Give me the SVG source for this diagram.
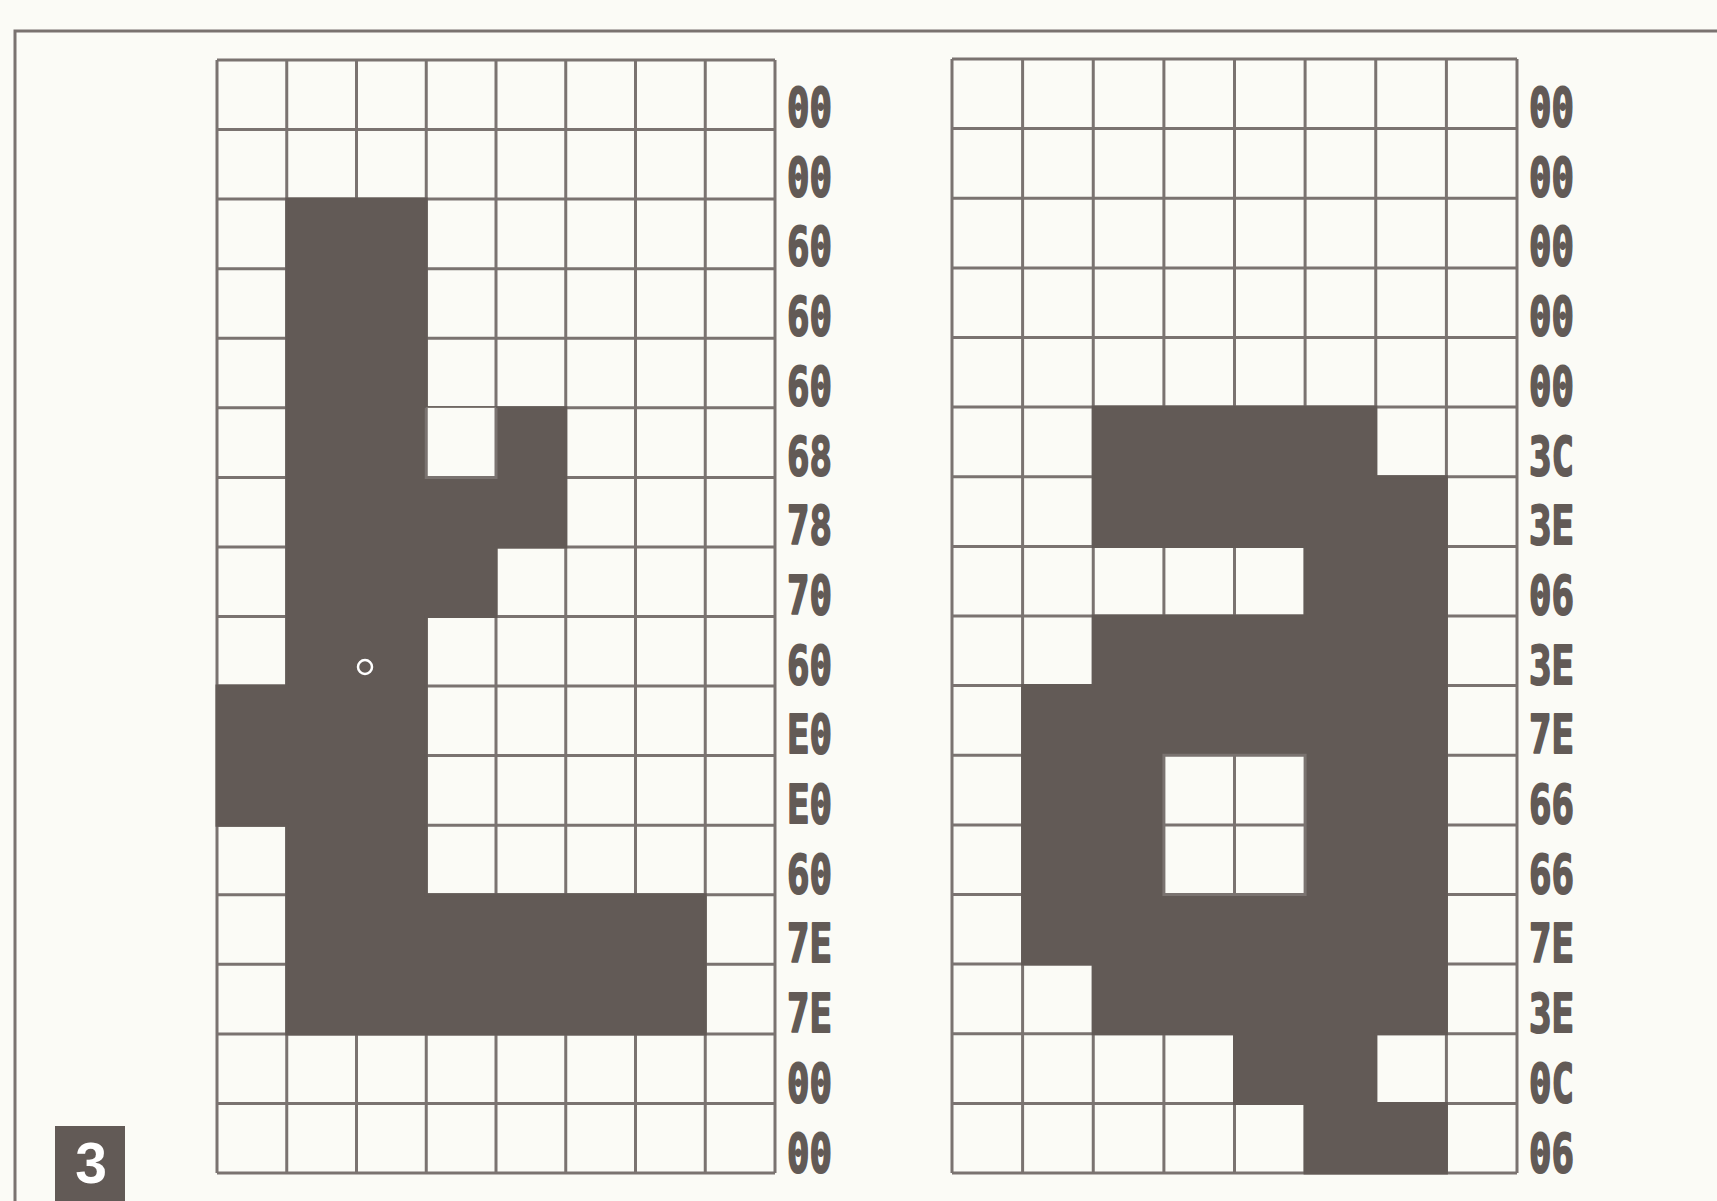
<svg xmlns="http://www.w3.org/2000/svg" width="1717" height="1201" viewBox="0 0 1717 1201">
<style>
.bg{fill:#fbfbf6}
.frame{fill:none;stroke:#7a7370;stroke-width:3}
.grid{fill:none;stroke:#7a7370;stroke-width:3}
.on{fill:#625a56;stroke:#625a56;stroke-width:3}
.hex{font-family:"DejaVu Sans Mono","Liberation Mono",monospace;font-weight:bold;font-size:53px;fill:#625a56;stroke:#625a56;stroke-width:2;stroke-linejoin:round}
.num{font-family:"Liberation Sans",Arial,sans-serif;font-weight:bold;font-size:57px;fill:#ffffff}
</style>
<rect class="bg" x="0" y="0" width="1717" height="1201"/>
<path class="frame" d="M15,1201 V31 H1717"/>

<g id="grid-left">
<path class="grid" d="M217,60 H775 M217,129.6 H775 M217,199.1 H775 M217,268.7 H775 M217,338.3 H775 M217,407.8 H775 M217,477.4 H775 M217,546.9 H775 M217,616.5 H775 M217,686.1 H775 M217,755.6 H775 M217,825.2 H775 M217,894.8 H775 M217,964.3 H775 M217,1033.9 H775 M217,1103.4 H775 M217,1173 H775 M217,60 V1173 M286.75,60 V1173 M356.5,60 V1173 M426.25,60 V1173 M496,60 V1173 M565.75,60 V1173 M635.5,60 V1173 M705.25,60 V1173 M775,60 V1173"/>
<path class="on" d="M286.75,199.1 H426.25 V407.8 H565.75 V546.9 H496 V616.5 H426.25 V894.8 H705.25 V1033.9 H286.75 V825.2 H217 V686.1 H286.75 Z"/>
<rect x="426.25" y="407.8" width="69.75" height="69.6" fill="#fbfbf6" stroke="none"/>
<path class="grid" d="M426.25,407.8 V477.4 H496 V407.8"/>
<circle cx="365" cy="667" r="7" fill="none" stroke="#ffffff" stroke-width="2.5"/>
<g class="hex">
<text x="787" y="126" textLength="45" lengthAdjust="spacingAndGlyphs">00</text>
<text x="787" y="195.7" textLength="45" lengthAdjust="spacingAndGlyphs">00</text>
<text x="787" y="265.4" textLength="45" lengthAdjust="spacingAndGlyphs">60</text>
<text x="787" y="335.1" textLength="45" lengthAdjust="spacingAndGlyphs">60</text>
<text x="787" y="404.8" textLength="45" lengthAdjust="spacingAndGlyphs">60</text>
<text x="787" y="474.5" textLength="45" lengthAdjust="spacingAndGlyphs">68</text>
<text x="787" y="544.2" textLength="45" lengthAdjust="spacingAndGlyphs">78</text>
<text x="787" y="613.9" textLength="45" lengthAdjust="spacingAndGlyphs">70</text>
<text x="787" y="683.6" textLength="45" lengthAdjust="spacingAndGlyphs">60</text>
<text x="787" y="753.3" textLength="45" lengthAdjust="spacingAndGlyphs">E0</text>
<text x="787" y="823" textLength="45" lengthAdjust="spacingAndGlyphs">E0</text>
<text x="787" y="892.7" textLength="45" lengthAdjust="spacingAndGlyphs">60</text>
<text x="787" y="962.4" textLength="45" lengthAdjust="spacingAndGlyphs">7E</text>
<text x="787" y="1032.1" textLength="45" lengthAdjust="spacingAndGlyphs">7E</text>
<text x="787" y="1101.8" textLength="45" lengthAdjust="spacingAndGlyphs">00</text>
<text x="787" y="1171.5" textLength="45" lengthAdjust="spacingAndGlyphs">00</text>
</g>
</g>

<g id="grid-right">
<path class="grid" d="M952,59 H1517 M952,128.6 H1517 M952,198.25 H1517 M952,267.9 H1517 M952,337.5 H1517 M952,407.1 H1517 M952,476.75 H1517 M952,546.4 H1517 M952,616 H1517 M952,685.6 H1517 M952,755.25 H1517 M952,824.9 H1517 M952,894.5 H1517 M952,964.1 H1517 M952,1033.75 H1517 M952,1103.4 H1517 M952,1173 H1517 M952,59 V1173 M1022.6,59 V1173 M1093.25,59 V1173 M1163.9,59 V1173 M1234.5,59 V1173 M1305.1,59 V1173 M1375.75,59 V1173 M1446.4,59 V1173 M1517,59 V1173"/>
<path class="on" d="M1093.25,407.1 H1375.75 V476.75 H1446.4 V1033.75 H1375.75 V1103.4 H1446.4 V1173 H1305.1 V1103.4 H1234.5 V1033.75 H1093.25 V964.1 H1022.6 V685.6 H1093.25 V616 H1305.1 V546.4 H1093.25 Z"/>
<rect x="1163.9" y="755.25" width="141.2" height="139.25" fill="#fbfbf6" stroke="none"/>
<path class="grid" d="M1163.9,755.25 H1305.1 V894.5 H1163.9 Z M1234.5,755.25 V894.5 M1163.9,824.9 H1305.1"/>
<g class="hex">
<text x="1529" y="126" textLength="45" lengthAdjust="spacingAndGlyphs">00</text>
<text x="1529" y="195.7" textLength="45" lengthAdjust="spacingAndGlyphs">00</text>
<text x="1529" y="265.4" textLength="45" lengthAdjust="spacingAndGlyphs">00</text>
<text x="1529" y="335.1" textLength="45" lengthAdjust="spacingAndGlyphs">00</text>
<text x="1529" y="404.8" textLength="45" lengthAdjust="spacingAndGlyphs">00</text>
<text x="1529" y="474.5" textLength="45" lengthAdjust="spacingAndGlyphs">3C</text>
<text x="1529" y="544.2" textLength="45" lengthAdjust="spacingAndGlyphs">3E</text>
<text x="1529" y="613.9" textLength="45" lengthAdjust="spacingAndGlyphs">06</text>
<text x="1529" y="683.6" textLength="45" lengthAdjust="spacingAndGlyphs">3E</text>
<text x="1529" y="753.3" textLength="45" lengthAdjust="spacingAndGlyphs">7E</text>
<text x="1529" y="823" textLength="45" lengthAdjust="spacingAndGlyphs">66</text>
<text x="1529" y="892.7" textLength="45" lengthAdjust="spacingAndGlyphs">66</text>
<text x="1529" y="962.4" textLength="45" lengthAdjust="spacingAndGlyphs">7E</text>
<text x="1529" y="1032.1" textLength="45" lengthAdjust="spacingAndGlyphs">3E</text>
<text x="1529" y="1101.8" textLength="45" lengthAdjust="spacingAndGlyphs">0C</text>
<text x="1529" y="1171.5" textLength="45" lengthAdjust="spacingAndGlyphs">06</text>
</g>
</g>

<g id="figure-number">
<rect x="55" y="1126" width="70" height="75" fill="#625a56"/>
<text class="num" x="91" y="1183" text-anchor="middle">3</text>
</g>
</svg>
